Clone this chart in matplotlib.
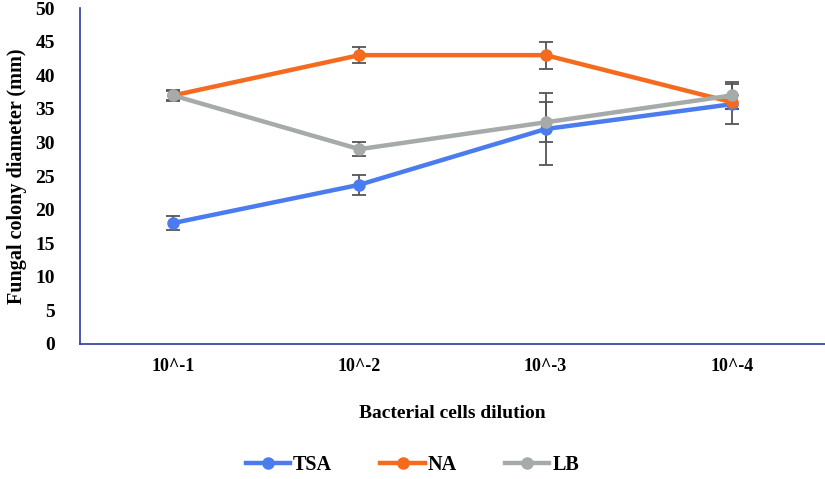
import matplotlib
matplotlib.use("Agg")
import matplotlib.pyplot as plt
from matplotlib.lines import Line2D
import numpy as np

categories = ["10^-1", "10^-2", "10^-3", "10^-4"]
tsa = [18, 23.7, 32, 35.7]
tsa_err = [1.0, 1.5, 5.3, 3.0]
na = [37, 43, 43, 36]
na_err = [0.7, 1.2, 2.0, 1.0]
lb = [37, 29, 33, 37]
lb_err = [0.8, 1.0, 3.0, 2.0]

plt.rcParams['font.family'] = ['Liberation Serif', 'DejaVu Serif']
plt.rcParams['font.weight'] = 'bold'

fig = plt.figure(figsize=(8.25, 4.79), dpi=100)
ax = fig.add_axes([0.097, 0.282, 0.903, 0.701])

x = np.arange(len(categories))
series = [("TSA", tsa, tsa_err, "#4A7CF0"), ("NA", na, na_err, "#F46A1E"), ("LB", lb, lb_err, "#A6AAA9")]
for name, vals, err, col in series:
    ax.errorbar(x, vals, yerr=err, color=col, lw=3.2, marker='o', markersize=8,
                ecolor="#555555", elinewidth=1.3, capsize=5, capthick=1.3, label=name, zorder=3)

ax.set_xlim(-0.5, 3.5)
ax.set_ylim(0, 50)
ax.set_yticks(range(0, 51, 5))
ax.set_xticks(x)
ax.set_xticklabels(categories)
ax.tick_params(axis='x', length=0, labelsize=13, pad=10)
ax.tick_params(axis='y', length=0, labelsize=14, pad=18)
for lab in ax.get_xticklabels() + ax.get_yticklabels():
    lab.set_fontweight('bold')
for s in ['top', 'right']:
    ax.spines[s].set_visible(False)
for s in ['left', 'bottom']:
    ax.spines[s].set_color('#2E3A9E')
    ax.spines[s].set_linewidth(1.2)

ax.set_ylabel("Fungal colony diameter (mm)", fontsize=14.5, fontweight='bold', labelpad=6)
ax.set_xlabel("Bacterial cells dilution", fontsize=14, fontweight='bold', labelpad=22)

labels = [s[0] for s in series]
hs = [Line2D([0], [0], color=c, lw=3.2, marker='o', markersize=8) for _, _, _, c in series]
leg = fig.legend(hs, labels, loc='lower center', bbox_to_anchor=(0.5, -0.03), ncol=3, frameon=False,
                 fontsize=14.5, handlelength=2.2, columnspacing=2.4, handletextpad=0.15)
for t in leg.get_texts():
    t.set_fontweight('bold')

fig.savefig("out.png", dpi=100)
